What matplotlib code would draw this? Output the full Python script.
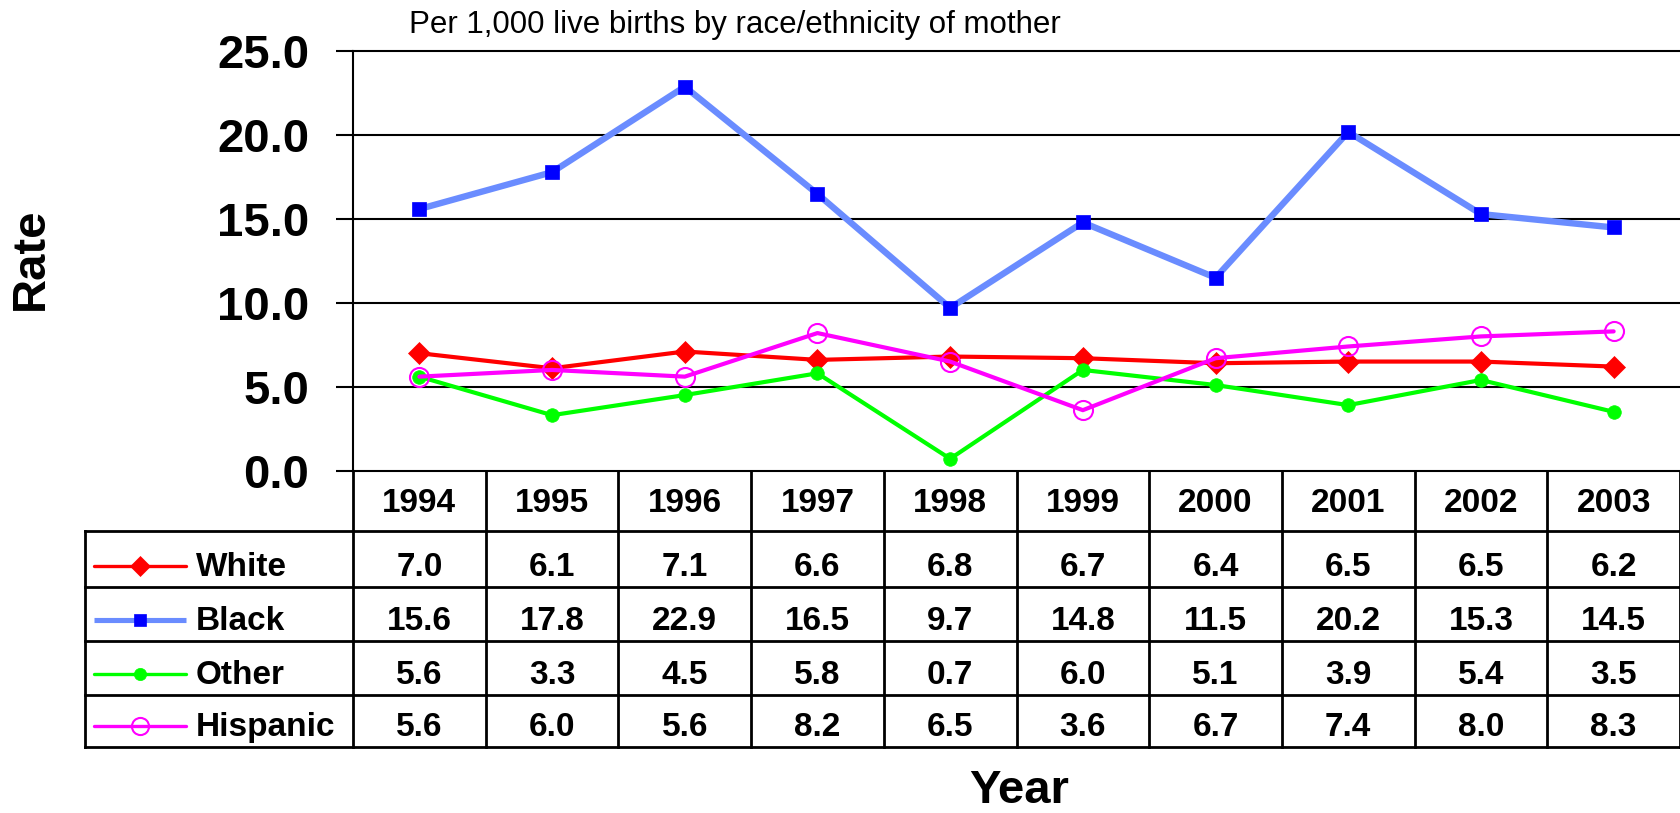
import matplotlib
matplotlib.use("Agg")
import matplotlib.pyplot as plt

# ---- data ----
years = ["1994", "1995", "1996", "1997", "1998", "1999", "2000", "2001", "2002", "2003"]
series_names = ["White", "Black", "Other", "Hispanic"]
white = [7.0, 6.1, 7.1, 6.6, 6.8, 6.7, 6.4, 6.5, 6.5, 6.2]
black = [15.6, 17.8, 22.9, 16.5, 9.7, 14.8, 11.5, 20.2, 15.3, 14.5]
other = [5.6, 3.3, 4.5, 5.8, 0.7, 6.0, 5.1, 3.9, 5.4, 3.5]
hispanic = [5.6, 6.0, 5.6, 8.2, 6.5, 3.6, 6.7, 7.4, 8.0, 8.3]
y_ticks = [0, 5, 10, 15, 20, 25]
y_tick_labels = ["0.0", "5.0", "10.0", "15.0", "20.0", "25.0"]
title = "Per 1,000 live births by race/ethnicity of mother"
y_label = "Rate"
x_label = "Year"

# ---- styles ----
styles = [
    dict(color="#FF0000", lw=3.0, marker="D", ms=11.7, mfc="#FF0000", mec="#FF0000", mew=0.5),
    dict(color="#6A8CFF", lw=4.6, marker="s", ms=9.8, mfc="#0000FF", mec="#0000FF", mew=0.5),
    dict(color="#00FF00", lw=3.0, marker="o", ms=9.8, mfc="#00FF00", mec="#00FF00", mew=0.5),
    dict(color="#FF00FF", lw=3.0, marker="o", ms=13.7, mfc="none", mec="#FF00FF", mew=1.5),
]
series = [white, black, other, hispanic]

FONT = ["Liberation Sans", "DejaVu Sans"]
plt.rcParams["font.family"] = FONT

W, H = 1680, 813
fig = plt.figure(figsize=(W / 100, H / 100), dpi=100)

def fx(px):
    return px / W

def fy(py):
    return 1 - py / H

ax_left, ax_right, ax_top, ax_bot = 353, 1680, 51.5, 470.5
ax = fig.add_axes([fx(ax_left), fy(ax_bot), fx(ax_right - ax_left), (ax_bot - ax_top) / H])
n = len(years)
xs = list(range(n))
ax.set_xlim(-0.5, n - 0.5)
ax.set_ylim(0, 25)

for vals, st in zip(series, styles):
    ax.plot(xs, vals, color=st["color"], lw=st["lw"], marker=st["marker"], ms=st["ms"],
            mfc=st["mfc"], mec=st["mec"], mew=st["mew"], clip_on=False, zorder=3,
            solid_joinstyle="round", solid_capstyle="round")

ax.set_yticks(y_ticks)
ax.set_yticklabels(y_tick_labels, fontsize=34, fontweight="bold")
ax.tick_params(axis="y", direction="out", length=12.2, width=1.5, pad=19.4, colors="black")
ax.set_xticks([])
ax.grid(axis="y", color="black", lw=1.5)
for gl in ax.get_ygridlines():
    gl.set_clip_on(False)
ax.set_axisbelow(True)
for s in ["top", "right", "bottom"]:
    ax.spines[s].set_visible(False)
ax.spines["left"].set_linewidth(1.5)

# ---- table ----
tab_left, tab_top, tab_bot = 85, 470.5, 747
colw = (ax_right - ax_left) / n
xl = -0.5 - (ax_left - tab_left) / colw
tax = fig.add_axes([fx(tab_left), fy(tab_bot), fx(ax_right - tab_left), (tab_bot - tab_top) / H])
tax.set_xlim(xl, n - 0.5)
tax.set_ylim(tab_bot, tab_top)
tax.axis("off")

row_edges = [470.5, 531, 587, 641, 695, 747]
tlw = 2.0
for y in row_edges[1:]:
    tax.plot([xl, n - 0.5], [y, y], color="black", lw=tlw, clip_on=False, solid_capstyle="projecting")
for k in range(n + 1):
    xv = k - 0.5
    tax.plot([xv, xv], [row_edges[0], row_edges[-1]], color="black", lw=tlw, clip_on=False)
tax.plot([xl, xl], [row_edges[1], row_edges[-1]], color="black", lw=tlw, clip_on=False,
         solid_capstyle="projecting")

tfs = 24
for i, yr in enumerate(years):
    tax.text(i, row_edges[1] - 19.3, yr, ha="center", va="baseline", fontsize=tfs, fontweight="bold")

def px2x(px):
    return (px - ax_left) / colw - 0.5

for r, (name, vals, st) in enumerate(zip(series_names, series, styles)):
    ybase = row_edges[r + 2] - 11
    ymid = ybase - 10
    tax.plot([px2x(93.6), px2x(186.4)], [ymid, ymid], color=st["color"], lw=st["lw"] * 0.8,
             clip_on=False, solid_capstyle="round" if r != 1 else "butt")
    tax.plot([px2x(140)], [ymid], marker=st["marker"], ms=st["ms"] * 0.9, mfc=st["mfc"],
             mec=st["mec"], mew=st["mew"], clip_on=False, ls="none")
    tax.text(px2x(196), ybase, name, ha="left", va="baseline", fontsize=tfs, fontweight="bold")
    for i, v in enumerate(vals):
        tax.text(i, ybase, f"{v:.1f}", ha="center", va="baseline", fontsize=tfs, fontweight="bold")

# ---- labels ----
fig.text(fx(409), fy(33.3), title, ha="left", va="baseline", fontsize=22.5)
fig.text(fx(31), fy(258.5), y_label, rotation=90, ha="center", va="center", fontsize=34,
         fontweight="bold")
fig.text(fx(1019), fy(803), x_label, ha="center", va="baseline", fontsize=34, fontweight="bold")

fig.savefig("out.png", dpi=100)
